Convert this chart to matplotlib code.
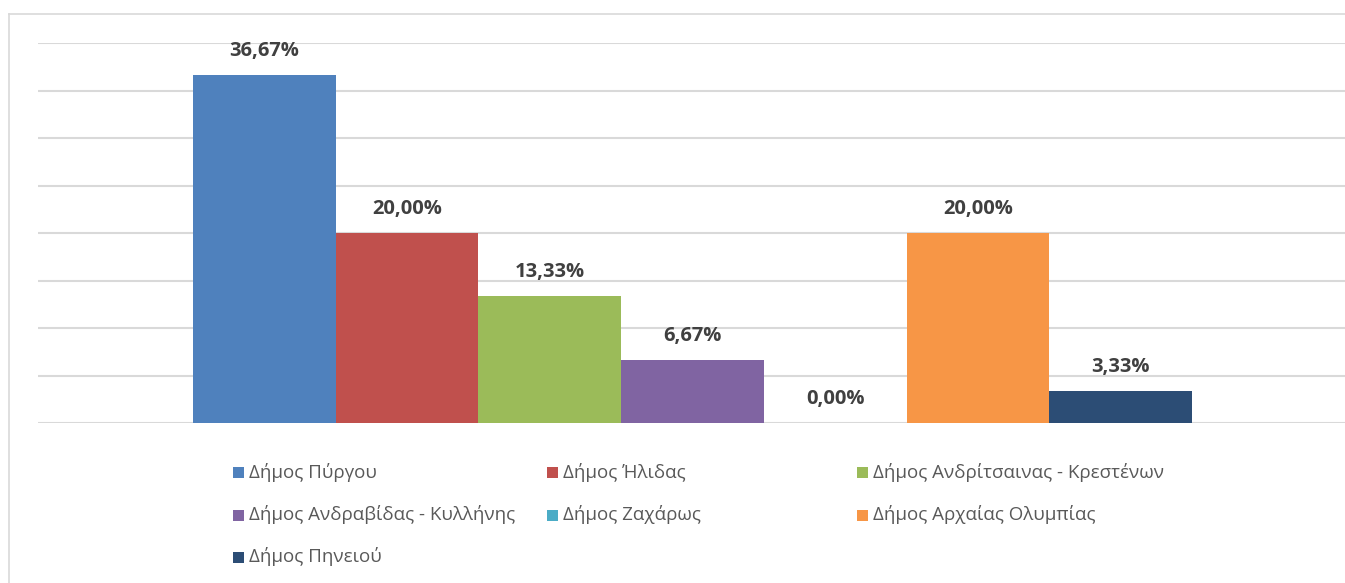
import matplotlib.pyplot as plt
from matplotlib.patches import Rectangle
from matplotlib.lines import Line2D

# data
series_names = [
    "Δήμος Πύργου",
    "Δήμος Ήλιδας",
    "Δήμος Ανδρίτσαινας - Κρεστένων",
    "Δήμος Ανδραβίδας - Κυλλήνης",
    "Δήμος Ζαχάρως",
    "Δήμος Αρχαίας Ολυμπίας",
    "Δήμος Πηνειού",
]
values = [36.67, 20.00, 13.33, 6.67, 0.00, 20.00, 3.33]
value_labels = ["36,67%", "20,00%", "13,33%", "6,67%", "0,00%", "20,00%", "3,33%"]
colors = ["#4F81BD", "#C0504D", "#9BBB59", "#8064A2", "#4BACC6", "#F79646", "#2C4D75"]

plt.rcParams["font.family"] = ["Open Sans", "DejaVu Sans"]

W, H = 1345, 583
fig = plt.figure(figsize=(W / 100, H / 100), dpi=100)

# outer chart frame: only top and left edges visible (screenshot is cropped)
fx, fy = 8.5 / W, (H - 13.5) / H
fig.add_artist(Line2D([fx, 1.0], [fy, fy], transform=fig.transFigure,
                      color="#D9D9D9", linewidth=1.2))
fig.add_artist(Line2D([fx, fx], [0.0, fy], transform=fig.transFigure,
                      color="#D9D9D9", linewidth=1.2))

# plot area: baseline at y=423px, top gridline (40%) at y=43px
ax = fig.add_axes([38 / W, (H - 423) / H, (W - 38) / W, 380 / H])

x = range(len(values))
ax.bar(x, values, width=1.0, color=colors, linewidth=0, zorder=3)

for i, (v, lab) in enumerate(zip(values, value_labels)):
    ax.annotate(lab, (i, v), xytext=(0, 10), textcoords="offset points",
                ha="center", va="bottom", fontsize=14.5, fontweight="bold",
                color="#404040", zorder=4)

ax.set_ylim(0, 40)
ax.set_xlim(-0.5 - 155 / 142.7, 6.5 + 153 / 142.7)
ax.set_yticks(range(0, 41, 5))
ax.yaxis.grid(True, color="#D9D9D9", linewidth=1.5, zorder=0)
ax.tick_params(left=False, bottom=False, labelleft=False, labelbottom=False)
for s in ax.spines.values():
    s.set_visible(False)

# legend: 3 columns, row-wise order
col_x = [233, 547, 857]
row_y = [472, 515, 557]
for i, (name, c) in enumerate(zip(series_names, colors)):
    r, cidx = divmod(i, 3)
    px, py = col_x[cidx], row_y[r]
    fig.patches.append(Rectangle((px / W, (H - py - 5.5) / H), 11 / W, 11 / H,
                                 transform=fig.transFigure, facecolor=c,
                                 edgecolor="none"))
    fig.text((px + 16) / W, (H - py) / H, name, ha="left", va="center",
             fontsize=13.5, color="#595959")

fig.savefig("out.png", dpi=100)
